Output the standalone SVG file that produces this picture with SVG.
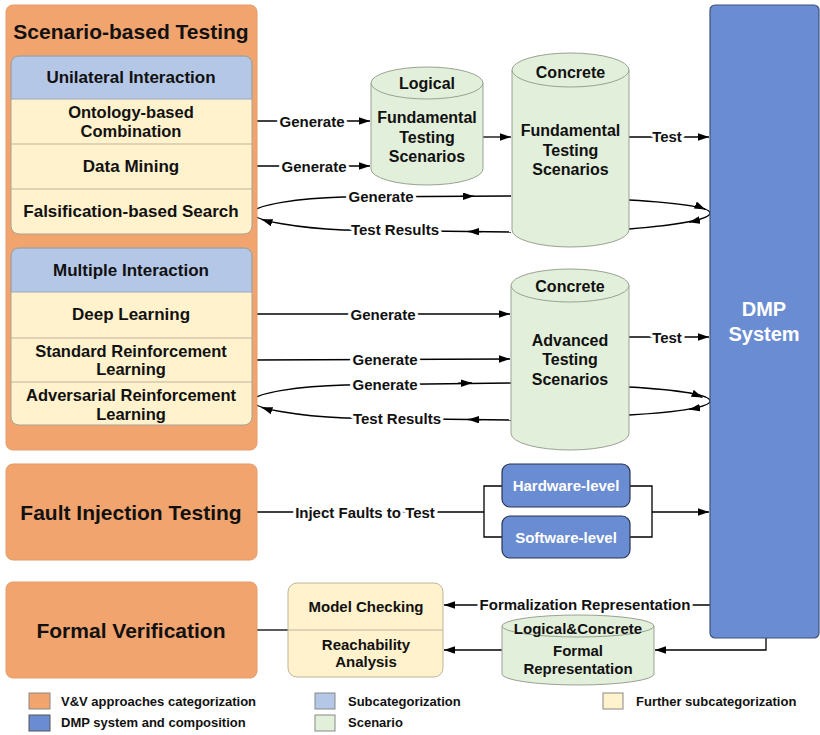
<svg xmlns="http://www.w3.org/2000/svg" width="820" height="735" viewBox="0 0 820 735">
<defs>
<marker id="a" markerUnits="userSpaceOnUse" markerWidth="12" markerHeight="8" refX="11" refY="3.75" orient="auto">
<path d="M0,0 L11,3.75 L0,7.5 Z" fill="#000"/>
</marker>
<style>
text{font-family:"Liberation Sans",Arial,sans-serif;font-weight:bold;text-anchor:middle;dominant-baseline:central;fill:#111}
.t21{font-size:21px}
.t17{font-size:17px}
.t165{font-size:16.5px}
.t16{font-size:16px}
.t15{font-size:15px}
.t13{font-size:13px;text-anchor:start}
.lbl{font-size:15px;paint-order:stroke;stroke:#fff;stroke-width:6px;stroke-linejoin:round}
.wt{fill:#fff}
.org{fill:#F2A46F;stroke:#E49A66;stroke-width:1}
.sub{fill:#B4C7E7;stroke:#9AA8C0;stroke-width:1}
.cream{fill:#FFF2CC}
.div{stroke:#BDB59A;stroke-width:1;fill:none}
.out{fill:none;stroke:#A8A394;stroke-width:1}
.grn{fill:#E2EFDA;stroke:#9AA292;stroke-width:1}
.dmp{fill:#6A8CD2;stroke:#3E5378;stroke-width:1.2}
.ln{fill:none;stroke:#000;stroke-width:1.3}
</style>
</defs>
<rect width="820" height="735" fill="#fff"/>

<g id="connectors">
<path class="ln" d="M253,121 L370,121" marker-end="url(#a)"/>
<path class="ln" d="M253,166 L370,166" marker-end="url(#a)"/>
<path class="ln" d="M483,137 L511,137" marker-end="url(#a)"/>
<path class="ln" d="M629,137 L709,137" marker-end="url(#a)"/>
<!-- loop 1 -->
<path class="ln" d="M343,197 C300,198 253,205 253,213 C253,221 300,228 343,230"/>
<path class="ln" d="M343,197 L511,196"/>
<path class="ln" d="M460,196.3 L474,196.2" marker-end="url(#a)"/>
<path class="ln" d="M343,230 L511,232"/>
<path class="ln" d="M482,231.7 L468,231.5" marker-end="url(#a)"/>
<path class="ln" d="M271,222.4 L261.5,219.3" marker-end="url(#a)"/>
<path class="ln" d="M629,200 C680,203 710,207 710,213 C710,219 680,225 629,229"/>
<path class="ln" d="M696,205.3 L705.5,209.4" marker-end="url(#a)"/>
<path class="ln" d="M699,220.2 L689,222.2" marker-end="url(#a)"/>
<!-- multiple interaction lines -->
<path class="ln" d="M253,314 L510,314" marker-end="url(#a)"/>
<path class="ln" d="M253,360 L510,359" marker-end="url(#a)"/>
<path class="ln" d="M629,337 L709,337" marker-end="url(#a)"/>
<!-- loop 2 -->
<path class="ln" d="M345,385 C300,386 253,393 253,401 C253,409 300,416 345,418"/>
<path class="ln" d="M345,385 L511,383"/>
<path class="ln" d="M458,383.2 L472,383" marker-end="url(#a)"/>
<path class="ln" d="M345,418 L511,420"/>
<path class="ln" d="M482,419.7 L468,419.5" marker-end="url(#a)"/>
<path class="ln" d="M271,410.4 L261.5,407.3" marker-end="url(#a)"/>
<path class="ln" d="M629,387 C680,390 710,395 710,401 C710,407 680,412 629,415"/>
<path class="ln" d="M693,393.6 L702.5,397.5" marker-end="url(#a)"/>
<path class="ln" d="M699,407.8 L689,409.4" marker-end="url(#a)"/>
<!-- fault injection -->
<path class="ln" d="M257,512 L484,512"/>
<path class="ln" d="M502,486 L484,486 L484,537 L502,537"/>
<path class="ln" d="M630,486 L652,486 L652,537 L630,537"/>
<path class="ln" d="M652,512 L709,512" marker-end="url(#a)"/>
<!-- formal -->
<path class="ln" d="M257,630 L288,630"/>
<path class="ln" d="M710,605 L444,605" marker-end="url(#a)"/>
<path class="ln" d="M502,650 L444,650" marker-end="url(#a)"/>
<path class="ln" d="M766,638 L766,650 L655,650" marker-end="url(#a)"/>
<!-- labels -->
<text class="lbl" x="312" y="121">Generate</text>
<text class="lbl" x="314" y="166">Generate</text>
<text class="lbl" x="667" y="136">Test</text>
<text class="lbl" x="381" y="196">Generate</text>
<text class="lbl" x="395" y="229">Test Results</text>
<text class="lbl" x="383" y="314">Generate</text>
<text class="lbl" x="385" y="359">Generate</text>
<text class="lbl" x="667" y="337">Test</text>
<text class="lbl" x="385" y="384">Generate</text>
<text class="lbl" x="397" y="418">Test Results</text>
<text class="lbl" x="365" y="512">Inject Faults to Test</text>
<text class="lbl" x="585" y="604">Formalization Representation</text>
</g>

<g id="scenario-based-testing">
<rect class="org" x="6" y="5" width="251" height="445" rx="7"/>
<text class="t21" x="131" y="31">Scenario-based Testing</text>
</g>

<g id="unilateral-interaction">
<rect class="cream" x="11" y="56" width="241" height="178" rx="8"/>
<path class="sub" d="M11,99 L11,64 Q11,56 19,56 L244,56 Q252,56 252,64 L252,99 Z"/>
<path class="div" d="M11,144 L252,144 M11,189 L252,189"/>
<rect class="out" x="11" y="56" width="241" height="178" rx="8"/>
<text class="t17" x="131" y="77">Unilateral Interaction</text>
<text class="t165" x="131" y="112">Ontology-based</text>
<text class="t165" x="131" y="130.5">Combination</text>
<text class="t17" x="131" y="166">Data Mining</text>
<text class="t17" x="131" y="211">Falsification-based Search</text>
</g>

<g id="multiple-interaction">
<rect class="cream" x="11" y="248" width="241" height="177" rx="8"/>
<path class="sub" d="M11,292 L11,256 Q11,248 19,248 L244,248 Q252,248 252,256 L252,292 Z"/>
<path class="div" d="M11,338 L252,338 M11,382 L252,382"/>
<rect class="out" x="11" y="248" width="241" height="177" rx="8"/>
<text class="t17" x="131" y="270">Multiple Interaction</text>
<text class="t17" x="131" y="314">Deep Learning</text>
<text class="t165" x="131" y="350.5">Standard Reinforcement</text>
<text class="t165" x="131" y="369">Learning</text>
<text class="t165" x="131" y="395">Adversarial Reinforcement</text>
<text class="t165" x="131" y="413.5">Learning</text>
</g>

<g id="logical-fundamental">
<path class="grn" d="M371,83 L371,169 A56,16 0 0 0 483,169 L483,83 Z"/>
<ellipse class="grn" cx="427" cy="83" rx="56" ry="16"/>
<text class="t16" x="427" y="83">Logical</text>
<text class="t16" x="427" y="117">Fundamental</text>
<text class="t16" x="427" y="137">Testing</text>
<text class="t16" x="427" y="156">Scenarios</text>
</g>

<g id="concrete-fundamental">
<path class="grn" d="M512,70 L512,230 A58.5,17 0 0 0 629,230 L629,70 Z"/>
<ellipse class="grn" cx="570.5" cy="70" rx="58.5" ry="17"/>
<text class="t16" x="570.5" y="72">Concrete</text>
<text class="t16" x="570.5" y="130">Fundamental</text>
<text class="t16" x="570.5" y="150">Testing</text>
<text class="t16" x="570.5" y="169">Scenarios</text>
</g>

<g id="concrete-advanced">
<path class="grn" d="M511,285.5 L511,433.5 A59,16.5 0 0 0 629,433.5 L629,285.5 Z"/>
<ellipse class="grn" cx="570" cy="285.5" rx="59" ry="16.5"/>
<text class="t16" x="570" y="286">Concrete</text>
<text class="t16" x="570" y="340">Advanced</text>
<text class="t16" x="570" y="359">Testing</text>
<text class="t16" x="570" y="379">Scenarios</text>
</g>

<g id="dmp-system">
<rect class="dmp" x="710" y="5" width="109" height="633" rx="5"/>
<text class="t21 wt" x="764" y="309" style="font-size:20px">DMP</text>
<text class="t21 wt" x="764" y="334" style="font-size:20px">System</text>
</g>

<g id="fault-injection-testing">
<rect class="org" x="6" y="464" width="251" height="96" rx="7"/>
<text class="t21" x="131" y="512">Fault Injection Testing</text>
</g>

<g id="hardware-level">
<rect class="dmp" x="502" y="464" width="128" height="43" rx="8" style="stroke:#2a3552"/>
<text class="t15 wt" x="566" y="485.5">Hardware-level</text>
</g>

<g id="software-level">
<rect class="dmp" x="502" y="516" width="128" height="42" rx="8" style="stroke:#2a3552"/>
<text class="t15 wt" x="566" y="537">Software-level</text>
</g>

<g id="formal-verification">
<rect class="org" x="6" y="582" width="251" height="96" rx="7"/>
<text class="t21" x="131" y="630">Formal Verification</text>
</g>

<g id="model-checking-reachability">
<rect class="cream" x="288" y="583" width="155" height="94" rx="9" style="stroke:#BDB59A;stroke-width:1"/>
<path class="div" d="M288,630 L443,630"/>
<text class="t15" x="366" y="606">Model Checking</text>
<text class="t15" x="366" y="644">Reachability</text>
<text class="t15" x="366" y="661">Analysis</text>
</g>

<g id="formal-representation">
<path class="grn" d="M502,626 L502,674 A76,11 0 0 0 654,674 L654,626 Z"/>
<ellipse class="grn" cx="578" cy="626" rx="76" ry="11"/>
<text class="t15" x="578" y="628">Logical&amp;Concrete</text>
<text class="t15" x="578" y="650">Formal</text>
<text class="t15" x="578" y="668">Representation</text>
</g>

<g id="legend">
<rect x="29" y="693" width="21" height="16" fill="#F2A46F" stroke="#888"/>
<text class="t13" x="61" y="701">V&amp;V approaches categorization</text>
<rect x="29" y="715" width="21" height="16" fill="#6A8CD2" stroke="#555"/>
<text class="t13" x="61" y="722">DMP system and composition</text>
<rect x="315" y="693" width="20" height="16" fill="#B4C7E7" stroke="#888"/>
<text class="t13" x="348" y="701">Subcategorization</text>
<rect x="315" y="715" width="20" height="16" fill="#E2EFDA" stroke="#888"/>
<text class="t13" x="348" y="722">Scenario</text>
<rect x="603" y="693" width="20" height="16" fill="#FFF2CC" stroke="#888"/>
<text class="t13" x="636" y="701">Further subcategorization</text>
</g>
</svg>
